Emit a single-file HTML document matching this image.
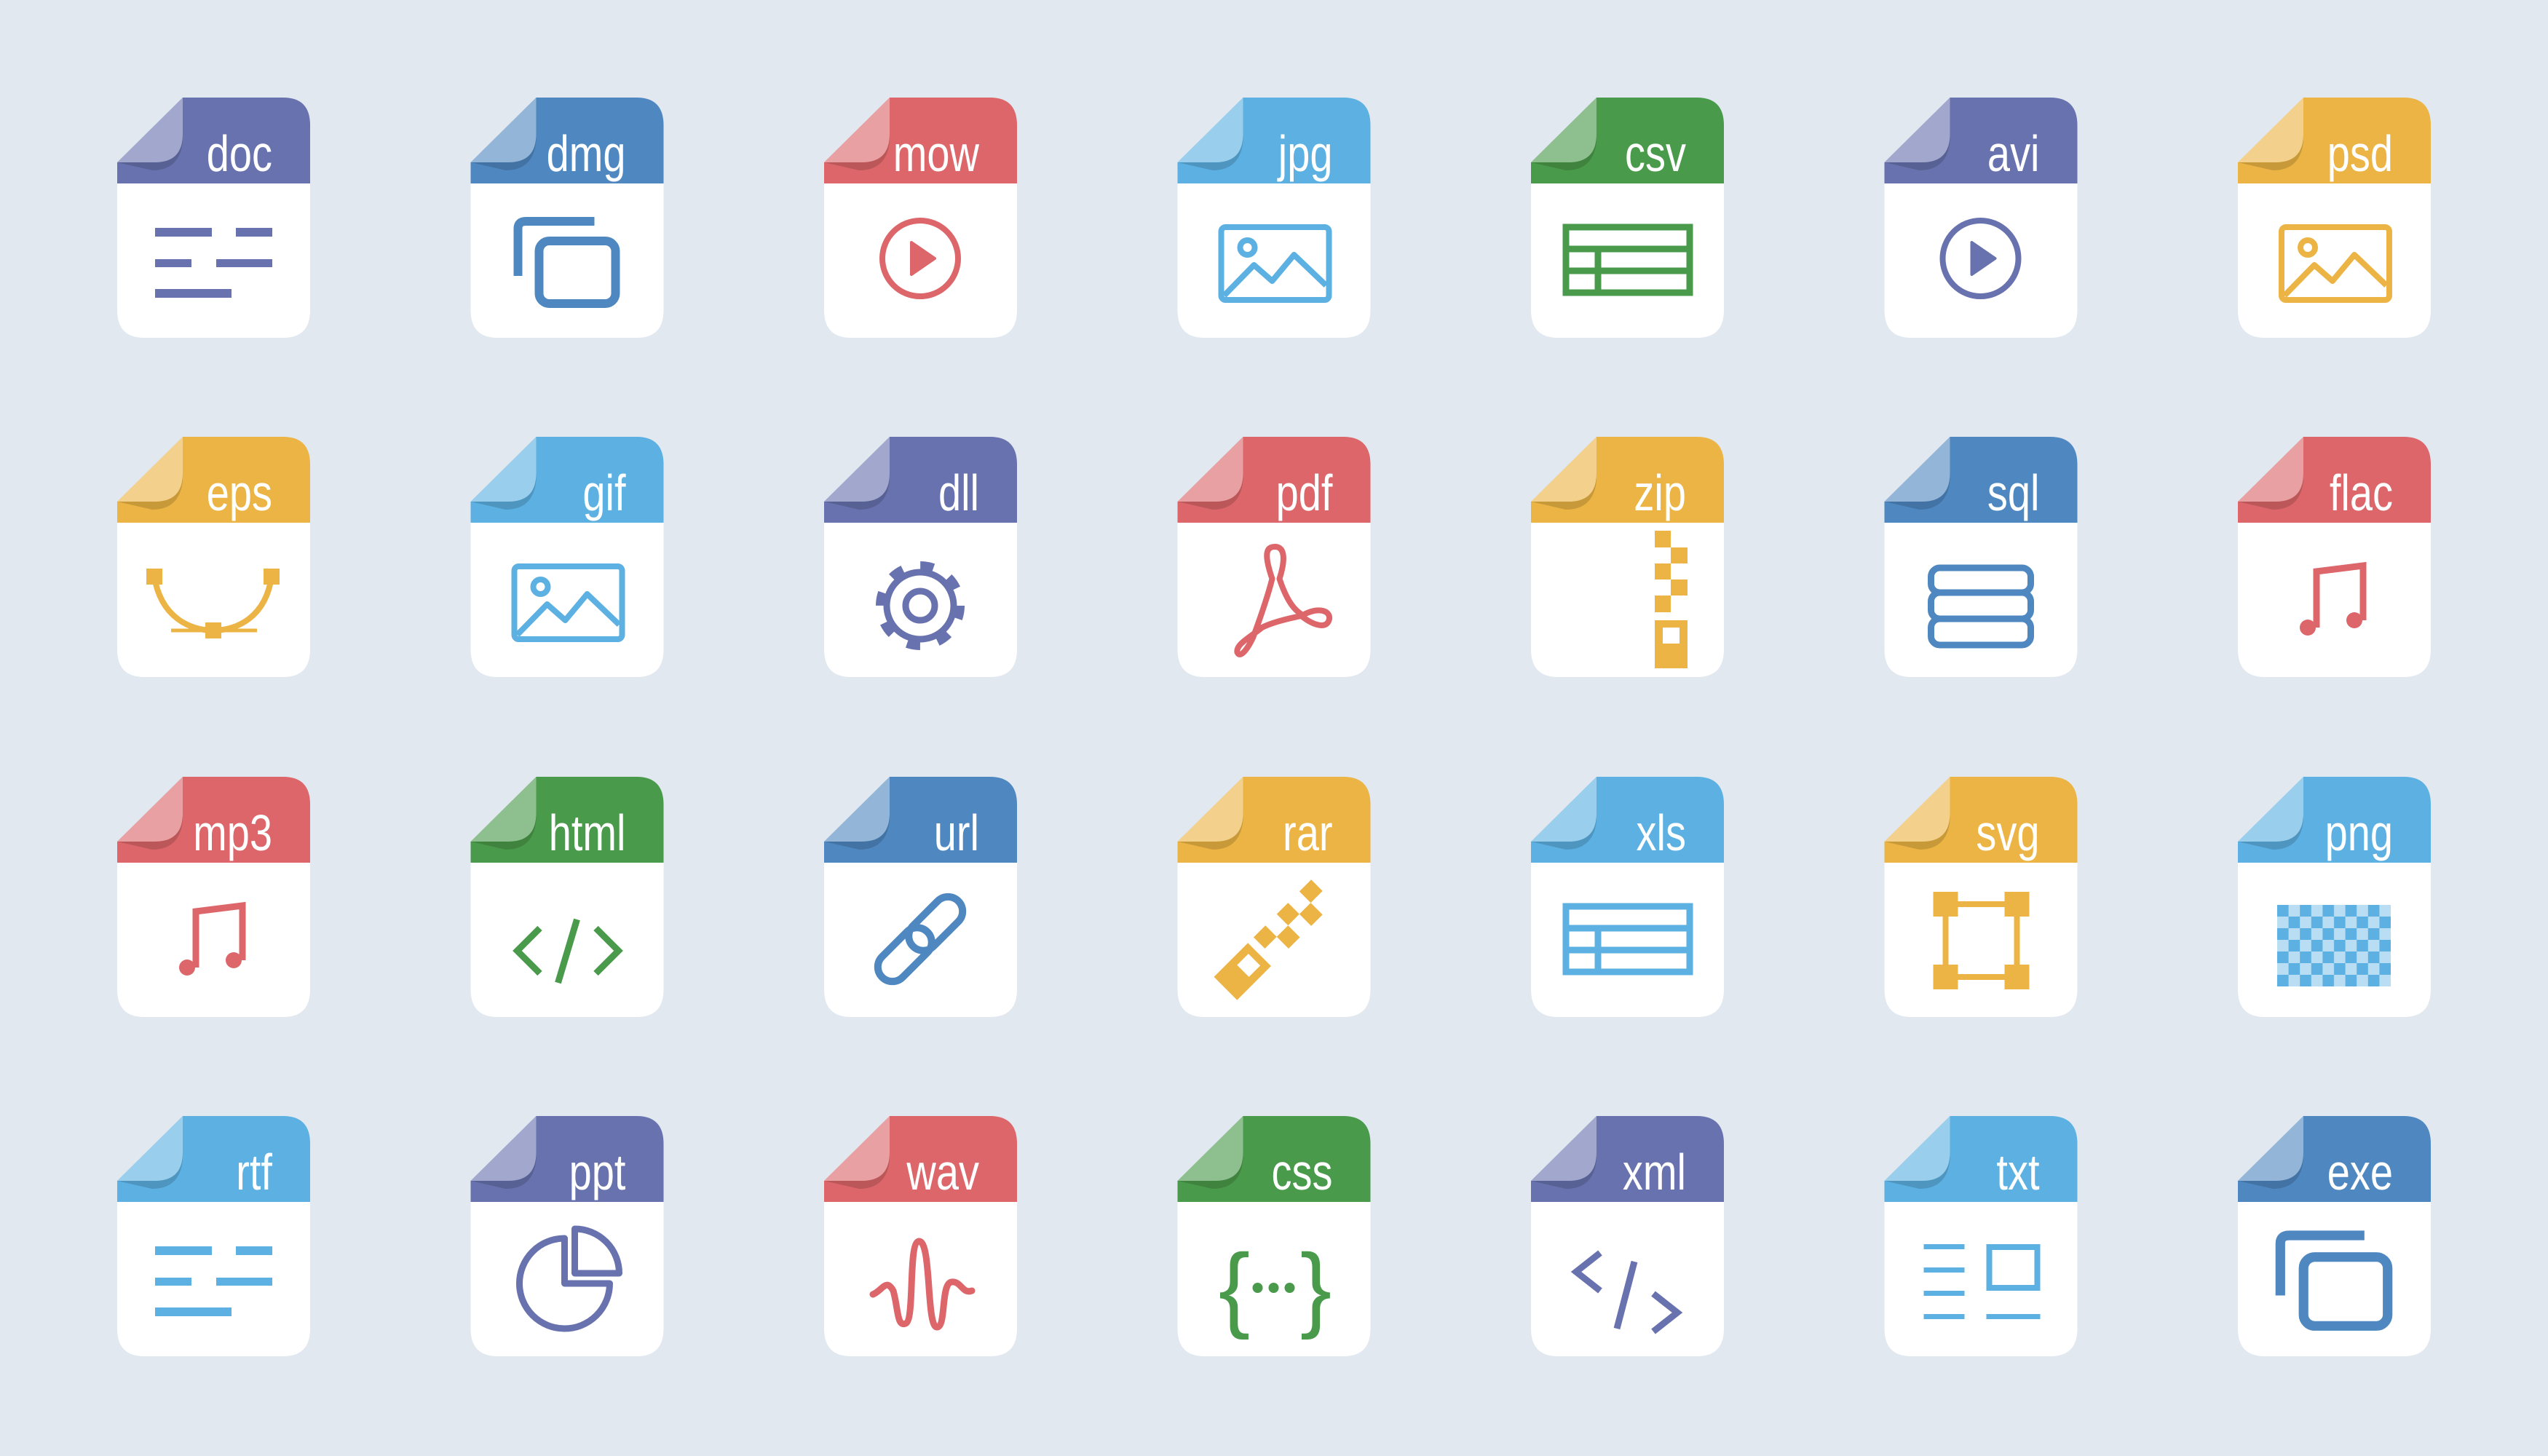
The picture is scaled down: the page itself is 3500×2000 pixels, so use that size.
<!DOCTYPE html>
<html><head><meta charset="utf-8"><style>
html,body{margin:0;padding:0;background:#e1e8f0;}
svg{display:block}
text.l{font-family:"Liberation Sans",sans-serif;font-size:70px;fill:#fff;}
</style></head><body>
<svg width="3500" height="2000" viewBox="0 0 3500 2000" xmlns="http://www.w3.org/2000/svg">
<defs>
<g id="base">
<path d="M0,118 H265 V292 Q265,330 228,330 H37 Q0,330 0,292 Z" fill="#fff"/>
<path d="M0,89 L90,0 H228 Q265,0 265,38 V118 H0 Z" fill="currentColor"/>
<path d="M0,89 L90,0 V50 Q90,89 52,89 Z" fill="#fff" fill-opacity="0.38"/>
<path d="M0,89 H52 Q90,89 90,50 V60 Q86,100 48,100 Z" fill="#000" fill-opacity="0.15"/>
</g>
<g id="lines"><rect x="52" y="179" width="78" height="12"/><rect x="163" y="179" width="50" height="12"/><rect x="52" y="222" width="50" height="11"/><rect x="136" y="222" width="77" height="11"/><rect x="52" y="263" width="105" height="12"/></g>
<g id="img" fill="none" stroke="currentColor" stroke-width="8" stroke-linejoin="round"><rect x="60" y="178" width="148" height="100" rx="6"/><circle cx="96" cy="206" r="10"/><polyline points="64,272 105,230 130,252 160,216 204,258"/></g>
<g id="play"><circle cx="132" cy="221" r="52" fill="none" stroke="currentColor" stroke-width="8"/><path d="M120,199 L152,221 L120,243 Z" fill="currentColor" stroke="currentColor" stroke-width="4" stroke-linejoin="round"/></g>
<g id="table" fill="none" stroke="currentColor" stroke-width="9"><rect x="48" y="178" width="170" height="90"/><line x1="48" y1="208" x2="218" y2="208"/><line x1="48" y1="238" x2="218" y2="238"/><line x1="92" y1="208" x2="92" y2="268"/></g>
<g id="note" fill="none" stroke="currentColor" stroke-width="9"><polyline points="108,262 108,185 172,177 172,252"/><circle cx="96" cy="262" r="11" fill="currentColor" stroke="none"/><circle cx="160" cy="252" r="11" fill="currentColor" stroke="none"/></g>
<g id="zipg" fill="currentColor"><rect x="170" y="129" width="22" height="23"/><rect x="192" y="152" width="23" height="22"/><rect x="170" y="174" width="22" height="22"/><rect x="192" y="196" width="23" height="22"/><rect x="170" y="218" width="22" height="23"/><path d="M170,252 H215 V318 H170 Z M181,262 V284 H204 V262 Z" fill-rule="evenodd"/></g>
<g id="copy" fill="none" stroke="currentColor" stroke-width="12"><path d="M65,245 V180 Q65,170 76,170 H170"/><rect x="94" y="197" width="105" height="86" rx="14"/></g>
<pattern id="chk" x="54" y="176" width="31.2" height="32" patternUnits="userSpaceOnUse"><rect width="31.2" height="32" fill="#b9def4"/><rect width="15.6" height="16" fill="#5cb0e2"/><rect x="15.6" y="16" width="15.6" height="16" fill="#5cb0e2"/></pattern>
</defs>
<rect width="3500" height="2000" fill="#e1e8f0"/>

<g transform="translate(161,134)" color="#6872ae"><use href="#base"/><text class="l" transform="translate(213,101) scale(0.8,1)" text-anchor="end">doc</text><use href="#lines" fill="#6872ae"/></g>
<g transform="translate(646.5,134)" color="#4f88c1"><use href="#base"/><text class="l" transform="translate(213,101) scale(0.8,1)" text-anchor="end">dmg</text><use href="#copy"/></g>
<g transform="translate(1132,134)" color="#dc6669"><use href="#base"/><text class="l" transform="translate(213,101) scale(0.8,1)" text-anchor="end">mow</text><use href="#play"/></g>
<g transform="translate(1617.5,134)" color="#5cb0e2"><use href="#base"/><text class="l" transform="translate(213,101) scale(0.8,1)" text-anchor="end">jpg</text><use href="#img"/></g>
<g transform="translate(2103,134)" color="#4a9a4b"><use href="#base"/><text class="l" transform="translate(213,101) scale(0.8,1)" text-anchor="end">csv</text><use href="#table"/></g>
<g transform="translate(2588.5,134)" color="#6872ae"><use href="#base"/><text class="l" transform="translate(213,101) scale(0.8,1)" text-anchor="end">avi</text><use href="#play"/></g>
<g transform="translate(3074,134)" color="#ecb444"><use href="#base"/><text class="l" transform="translate(213,101) scale(0.8,1)" text-anchor="end">psd</text><use href="#img"/></g>

<g transform="translate(161,600)" color="#ecb444"><use href="#base"/><text class="l" transform="translate(213,101) scale(0.8,1)" text-anchor="end">eps</text>
<g fill="none" stroke="#ecb444"><path d="M51,192 C60,248 100,266 132,266 C164,266 204,248 212,192" stroke-width="8"/><line x1="74" y1="266" x2="192" y2="266" stroke-width="5"/></g>
<g fill="#ecb444"><rect x="40" y="181" width="22" height="22"/><rect x="201" y="181" width="22" height="22"/><rect x="121" y="255" width="22" height="22"/></g></g>
<g transform="translate(646.5,600)" color="#5cb0e2"><use href="#base"/><text class="l" transform="translate(213,101) scale(0.8,1)" text-anchor="end">gif</text><use href="#img"/></g>
<g transform="translate(1132,600)" color="#6872ae"><use href="#base"/><text class="l" transform="translate(213,101) scale(0.8,1)" text-anchor="end">dll</text>
<g fill="none" stroke="#6872ae"><circle cx="132" cy="232" r="46" stroke-width="9"/><circle cx="132" cy="232" r="54" stroke-width="14" stroke-dasharray="18 24.4"/><circle cx="132" cy="232" r="20" stroke-width="9"/></g></g>
<g transform="translate(1617.5,600)" color="#dc6669"><use href="#base"/><text class="l" transform="translate(213,101) scale(0.8,1)" text-anchor="end">pdf</text>
<path d="M116,262 C100,275 80,285 82,296 C86,305 96,292 104,275 C115,245 125,215 130,195 C118,160 122,151 134,151 C148,151 148,170 140,195 C150,225 160,238 172,245 C195,232 212,240 208,252 C204,265 185,258 170,246 C150,250 130,255 116,262 Z" fill="none" stroke="#dc6669" stroke-width="8" stroke-linejoin="round"/></g>
<g transform="translate(2103,600)" color="#ecb444"><use href="#base"/><text class="l" transform="translate(213,101) scale(0.8,1)" text-anchor="end">zip</text><use href="#zipg"/></g>
<g transform="translate(2588.5,600)" color="#4f88c1"><use href="#base"/><text class="l" transform="translate(213,101) scale(0.8,1)" text-anchor="end">sql</text>
<g fill="none" stroke="#4f88c1" stroke-width="9"><rect x="64" y="180" width="137" height="34" rx="12"/><rect x="64" y="214" width="137" height="36" rx="12"/><rect x="64" y="250" width="137" height="36" rx="12"/></g></g>
<g transform="translate(3074,600)" color="#dc6669"><use href="#base"/><text class="l" transform="translate(213,101) scale(0.8,1)" text-anchor="end">flac</text><use href="#note"/></g>

<g transform="translate(161,1067)" color="#dc6669"><use href="#base"/><text class="l" transform="translate(213,101) scale(0.8,1)" text-anchor="end">mp3</text><use href="#note"/></g>
<g transform="translate(646.5,1067)" color="#4a9a4b"><use href="#base"/><text class="l" transform="translate(213,101) scale(0.8,1)" text-anchor="end">html</text>
<g fill="none" stroke="#4a9a4b" stroke-width="9"><polyline points="95,208 64,239 95,270"/><line x1="146" y1="196" x2="120" y2="283"/><polyline points="172,208 203,239 172,270"/></g></g>
<g transform="translate(1132,1067)" color="#4f88c1"><use href="#base"/><text class="l" transform="translate(213,101) scale(0.8,1)" text-anchor="end">url</text>
<g fill="none" stroke="#4f88c1" stroke-width="10" transform="rotate(-45 132 223)"><rect x="58" y="203" width="88" height="40" rx="20"/><rect x="118" y="203" width="88" height="40" rx="20"/></g></g>
<g transform="translate(1617.5,1067)" color="#ecb444"><use href="#base"/><text class="l" transform="translate(213,101) scale(0.8,1)" text-anchor="end">rar</text>
<g transform="rotate(45 132 224) translate(-60,0)"><use href="#zipg"/></g></g>
<g transform="translate(2103,1067)" color="#5cb0e2"><use href="#base"/><text class="l" transform="translate(213,101) scale(0.8,1)" text-anchor="end">xls</text><use href="#table"/></g>
<g transform="translate(2588.5,1067)" color="#ecb444"><use href="#base"/><text class="l" transform="translate(213,101) scale(0.8,1)" text-anchor="end">svg</text>
<rect x="84" y="175" width="98" height="100" fill="none" stroke="#ecb444" stroke-width="8"/>
<g fill="#ecb444"><rect x="67" y="158" width="34" height="34"/><rect x="165" y="158" width="34" height="34"/><rect x="67" y="258" width="34" height="34"/><rect x="165" y="258" width="34" height="34"/></g></g>
<g transform="translate(3074,1067)" color="#5cb0e2"><use href="#base"/><text class="l" transform="translate(213,101) scale(0.8,1)" text-anchor="end">png</text>
<rect x="54" y="176" width="156" height="112" fill="url(#chk)"/></g>

<g transform="translate(161,1533)" color="#5cb0e2"><use href="#base"/><text class="l" transform="translate(213,101) scale(0.8,1)" text-anchor="end">rtf</text><use href="#lines" fill="#5cb0e2"/></g>
<g transform="translate(646.5,1533)" color="#6872ae"><use href="#base"/><text class="l" transform="translate(213,101) scale(0.8,1)" text-anchor="end">ppt</text>
<g fill="none" stroke="#6872ae" stroke-width="9" stroke-linejoin="round"><path d="M129,168 A62,62 0 1 0 191,230 H129 Z"/><path d="M143,216 V155 A61,61 0 0 1 204,216 Z"/></g></g>
<g transform="translate(1132,1533)" color="#dc6669"><use href="#base"/><text class="l" transform="translate(213,101) scale(0.8,1)" text-anchor="end">wav</text>
<path d="M67,245 C80,240 85,222 95,240 C102,265 100,290 112,285 C125,280 115,175 130,172 C148,170 140,290 155,290 C168,290 160,230 175,228 C188,226 190,245 203,240" fill="none" stroke="#dc6669" stroke-width="9" stroke-linecap="round"/></g>
<g transform="translate(1617.5,1533)" color="#4a9a4b"><use href="#base"/><text class="l" transform="translate(213,101) scale(0.8,1)" text-anchor="end">css</text>
<g fill="#4a9a4b" font-family="Liberation Sans, sans-serif" font-size="130" text-anchor="middle"><text x="78" y="280">{</text><text x="190" y="280">}</text></g>
<g fill="#4a9a4b"><circle cx="110" cy="236" r="7"/><circle cx="132" cy="236" r="7"/><circle cx="154" cy="236" r="7"/></g></g>
<g transform="translate(2103,1533)" color="#6872ae"><use href="#base"/><text class="l" transform="translate(213,101) scale(0.8,1)" text-anchor="end">xml</text>
<g fill="none" stroke="#6872ae" stroke-width="9"><polyline points="95,188 62,214 95,240"/><line x1="142" y1="200" x2="118" y2="292"/><polyline points="168,244 201,270 168,296"/></g></g>
<g transform="translate(2588.5,1533)" color="#5cb0e2"><use href="#base"/><text class="l" transform="translate(213,101) scale(0.8,1)" text-anchor="end">txt</text>
<g fill="#5cb0e2"><rect x="54" y="176" width="56" height="7"/><rect x="54" y="208" width="56" height="7"/><rect x="54" y="240" width="56" height="7"/><rect x="54" y="272" width="56" height="7"/><rect x="140" y="272" width="74" height="7"/></g>
<rect x="144" y="180" width="66" height="56" fill="none" stroke="#5cb0e2" stroke-width="8"/></g>
<g transform="translate(3074,1533)" color="#4f88c1"><use href="#base"/><text class="l" transform="translate(213,101) scale(0.8,1)" text-anchor="end">exe</text>
<g transform="translate(132,230) scale(1.1) translate(-132,-230)"><use href="#copy"/></g></g>
</svg>
</body></html>
